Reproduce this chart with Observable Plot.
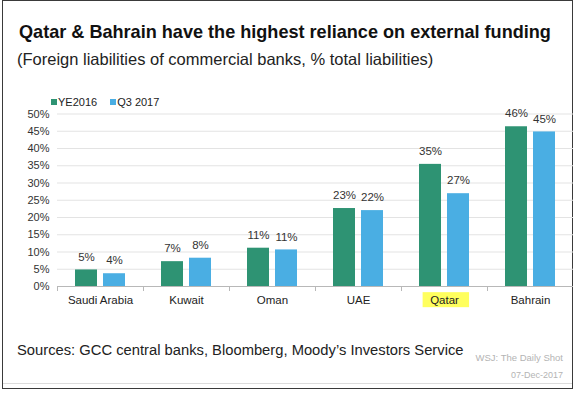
<!DOCTYPE html>
<html>
<head>
<meta charset="utf-8">
<script src="https://cdn.jsdelivr.net/npm/d3@7"></script>
<script src="https://cdn.jsdelivr.net/npm/@observablehq/plot@0.6"></script>
<style>
  html, body { margin: 0; padding: 0; background: #fff; }
  #wrap { position: relative; width: 576px; height: 394px; overflow: hidden; background: #fff;
          font-family: "Liberation Sans", Arial, sans-serif; color: #111; }
  #frame { position: absolute; left: 2px; top: 0px; width: 569px; height: 387px; border: 1.5px solid #3a3a3a; box-sizing: content-box; }
  #sep { position: absolute; left: 3px; top: 383px; width: 569px; height: 1px; background: #dcdcdc; }
  .t { position: absolute; white-space: nowrap; line-height: 1; }
  #title { left: 19px; top: 22.5px; font-size: 18.1px; font-weight: bold; color: #111; }
  #subtitle { left: 17px; top: 50.5px; font-size: 16.5px; color: #222; }
  #source { left: 17px; top: 342.5px; font-size: 14.75px; color: #222; }
  #wsj { right: 13px; top: 353px; font-size: 9.5px; color: #b4b4b4; }
  #date { right: 13px; top: 371px; font-size: 9px; color: #b4b4b4; }
  #legend { position: absolute; left: 51px; top: 96px; height: 12px; display: flex; align-items: center; font-size: 11px; color: #222; }
  #legend .item { display: flex; align-items: center; margin-right: 13px; }
  #legend .sw { width: 6px; height: 6px; margin-right: 1px; }
  #chart { position: absolute; left: 0; top: 95px; }
</style>
</head>
<body>
<div id="wrap">
  <div id="frame"></div>
  <div id="sep"></div>
  <div class="t" id="title">Qatar &amp; Bahrain have the highest reliance on external funding</div>
  <div class="t" id="subtitle">(Foreign liabilities of commercial banks, % total liabilities)</div>
  <div id="chart"></div>
  <div id="legend"></div>
  <div class="t" id="source">Sources: GCC central banks, Bloomberg, Moody’s Investors Service</div>
  <div class="t" id="wsj">WSJ: The Daily Shot</div>
  <div class="t" id="date">07-Dec-2017</div>
</div>
<script>
const countries = ["Saudi Arabia", "Kuwait", "Oman", "UAE", "Qatar", "Bahrain"];
const seriesNames = ["YE2016", "Q3 2017"];
const ye2016 = [4.8, 7.2, 11.1, 22.6, 35.4, 46.3];
const q3_2017 = [3.7, 8.2, 10.6, 22.0, 26.9, 44.8];
const seriesColors = ["#2e9373", "#4aaee3"];
const yTicks = [0, 5, 10, 15, 20, 25, 30, 35, 40, 45, 50];
const highlighted = "Qatar";

const data = countries.flatMap((c, i) => [
  {country: c, series: seriesNames[0], value: ye2016[i]},
  {country: c, series: seriesNames[1], value: q3_2017[i]}
]);

// legend
const legend = document.getElementById("legend");
seriesNames.forEach((s, i) => {
  const item = document.createElement("div");
  item.className = "item";
  const sw = document.createElement("div");
  sw.className = "sw";
  sw.style.background = seriesColors[i];
  const lab = document.createElement("span");
  lab.textContent = s;
  item.appendChild(sw);
  item.appendChild(lab);
  legend.appendChild(item);
});

const H = 220;
const mTop = 18.5, mBottom = 29;
const innerH = H - mTop - mBottom;

const chart = Plot.plot({
  width: 576,
  height: H,
  marginTop: mTop,
  marginBottom: mBottom,
  marginLeft: 55,
  marginRight: 1.4,
  style: {fontFamily: "'Liberation Sans', Arial, sans-serif", fontSize: "11px", background: "transparent", color: "#333"},
  fx: {domain: countries, padding: 0, label: null},
  x: {domain: seriesNames, paddingInner: 0.231, paddingOuter: 0.61, axis: null},
  y: {domain: [0, 50], label: null},
  color: {domain: seriesNames, range: seriesColors},
  marks: [
    Plot.gridY(yTicks, {stroke: "#e3e3e3", strokeOpacity: 1}),
    Plot.axisY(yTicks, {tickSize: 0, tickPadding: 8, tickFormat: d => d + "%", fill: "#333", label: null}),
    Plot.axisFx({anchor: "bottom", tickSize: 0, tickPadding: 9, label: null, fill: "#222", fontSize: 11.5}),
    Plot.ruleY([0], {stroke: "#b8b8b8"}),
    Plot.frame({anchor: "left", stroke: "#b8b8b8", insetTop: innerH, insetBottom: -4}),
    Plot.barY(data, {fx: "country", x: "series", y: "value", fill: "series"}),
    Plot.text(data, {fx: "country", x: "series", y: "value", text: d => Math.round(d.value) + "%", dy: -13, fill: "#333", fontSize: 11.5})
  ]
});
document.getElementById("chart").appendChild(chart);

// highlight the Qatar label
d3.select(chart).selectAll("text").each(function() {
  if (this.textContent === highlighted && this.parentNode) {
    const bb = this.getBBox();
    const r = document.createElementNS("http://www.w3.org/2000/svg", "rect");
    r.setAttribute("x", bb.x - 7.5);
    r.setAttribute("y", bb.y - 1.5);
    r.setAttribute("width", bb.width + 17.5);
    r.setAttribute("height", bb.height + 3);
    r.setAttribute("fill", "#ffff5e");
    const tr = this.getAttribute("transform");
    if (tr) r.setAttribute("transform", tr);
    this.parentNode.insertBefore(r, this);
  }
});
</script>
</body>
</html>
